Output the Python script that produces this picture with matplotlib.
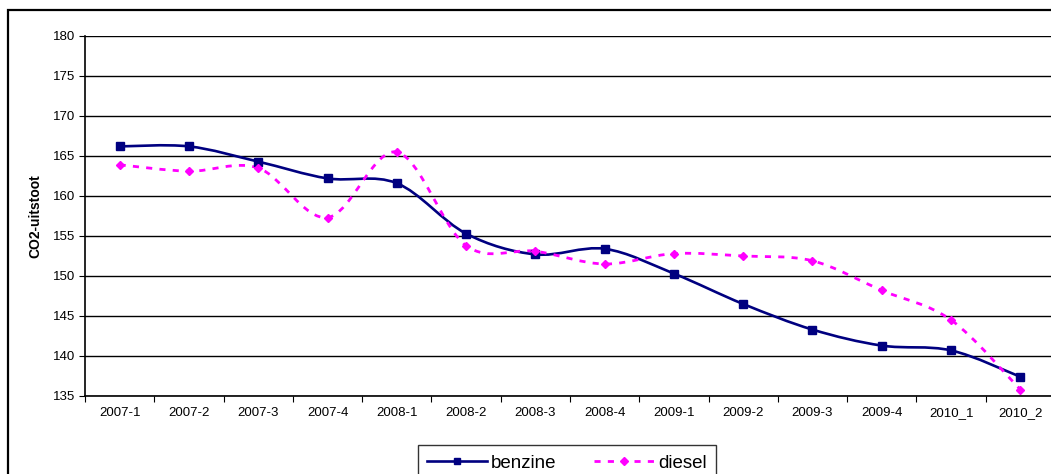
import numpy as np
import matplotlib
matplotlib.use('Agg')
import matplotlib.pyplot as plt
from matplotlib.path import Path
from matplotlib.patches import PathPatch, Rectangle
from matplotlib.lines import Line2D

plt.rcParams['font.family'] = ['Liberation Sans', 'DejaVu Sans']

# quarters and CO2 values
quarters = ['2007-1', '2007-2', '2007-3', '2007-4', '2008-1', '2008-2', '2008-3',
            '2008-4', '2009-1', '2009-2', '2009-3', '2009-4', '2010_1', '2010_2']
benzine = [166.2, 166.2, 164.3, 162.2, 161.6, 155.3, 152.7,
           153.4, 150.3, 146.5, 143.3, 141.3, 140.7, 137.4]
diesel = [163.9, 163.1, 163.5, 157.3, 165.5, 153.8, 153.1,
          151.5, 152.8, 152.5, 151.9, 148.2, 144.5, 135.8]


def smooth_path(xs, ys):
    # Excel-like smoothed line: cubic bezier segments (Catmull-Rom control points)
    p = np.column_stack([xs, ys]).astype(float)
    n = len(p)
    verts = [p[0]]
    codes = [Path.MOVETO]
    for i in range(n - 1):
        p0 = p[i - 1] if i > 0 else p[i]
        p3 = p[i + 2] if i + 2 < n else p[i + 1]
        c1 = p[i] + (p[i + 1] - p0) / 6
        c2 = p[i + 1] - (p3 - p[i]) / 6
        verts += [c1, c2, p[i + 1]]
        codes += [Path.CURVE4] * 3
    return Path(verts, codes)


W, H = 1051, 474
fig = plt.figure(figsize=(W / 100, H / 100), dpi=100)

# chart area frame (runs off the right and bottom of the image)
fig.patches.append(Rectangle((8 / W, -0.5), 1.5, 1.5 - 10 / H, transform=fig.transFigure,
                             fill=False, ec='#000000', lw=1.6))

ax = fig.add_axes([85 / W, 1 - 396 / H, 970 / W, 360 / H])
x = np.arange(len(quarters))

dash = (0, (2.2, 2.6))
ax.add_patch(PathPatch(smooth_path(x, benzine), fill=False, ec='#000080', lw=1.9, zorder=3))
ax.add_patch(PathPatch(smooth_path(x, diesel), fill=False, ec='#FF00FF', lw=2.0,
                       linestyle=dash, zorder=3))
ax.plot(x, benzine, 's', color='#000080', ms=5.3, zorder=4)
ax.plot(x, diesel, 'D', color='#FF00FF', ms=4.3, zorder=4)

ax.set_xlim(-0.5, len(quarters) - 0.5)
ax.set_ylim(135, 180)
ax.set_yticks(np.arange(135, 181, 5))
ax.grid(axis='y', color='#000000', lw=1)
ax.set_axisbelow(True)

ax.set_xticks(np.arange(-0.5, len(quarters), 1))
ax.set_xticklabels([])
ax.set_xticks(x, minor=True)
ax.set_xticklabels(quarters, minor=True)
ax.tick_params(axis='x', which='major', direction='out', length=4, color='#000000')
ax.tick_params(axis='x', which='minor', length=0, pad=8, labelsize=9.5)
ax.tick_params(axis='y', direction='out', length=4, pad=3, labelsize=9.5)

for s in ['top', 'right']:
    ax.spines[s].set_visible(False)
for s in ['left', 'bottom']:
    ax.spines[s].set_color('#000000')
    ax.spines[s].set_linewidth(1.2)

fig.text(35 / W, 1 - 216 / H, 'CO2-uitstoot', rotation=90, ha='center', va='center',
         fontsize=10, fontweight='bold')

handles = [
    Line2D([], [], color='#000080', lw=1.9, marker='s', ms=4.5),
    Line2D([], [], color='#FF00FF', lw=2.0, linestyle=dash, marker='D', ms=4),
]
leg = fig.legend(handles, ['benzine', 'diesel'], loc='upper left',
                 bbox_to_anchor=(418 / W, 1 - 445 / H), borderaxespad=0, ncol=2,
                 fontsize=13.5, handlelength=3.2, handletextpad=0.2, columnspacing=2.0,
                 borderpad=0.5, fancybox=False, frameon=True)
leg.get_frame().set_edgecolor('#000000')
leg.get_frame().set_linewidth(1.0)

fig.savefig('out.png', dpi=100)
